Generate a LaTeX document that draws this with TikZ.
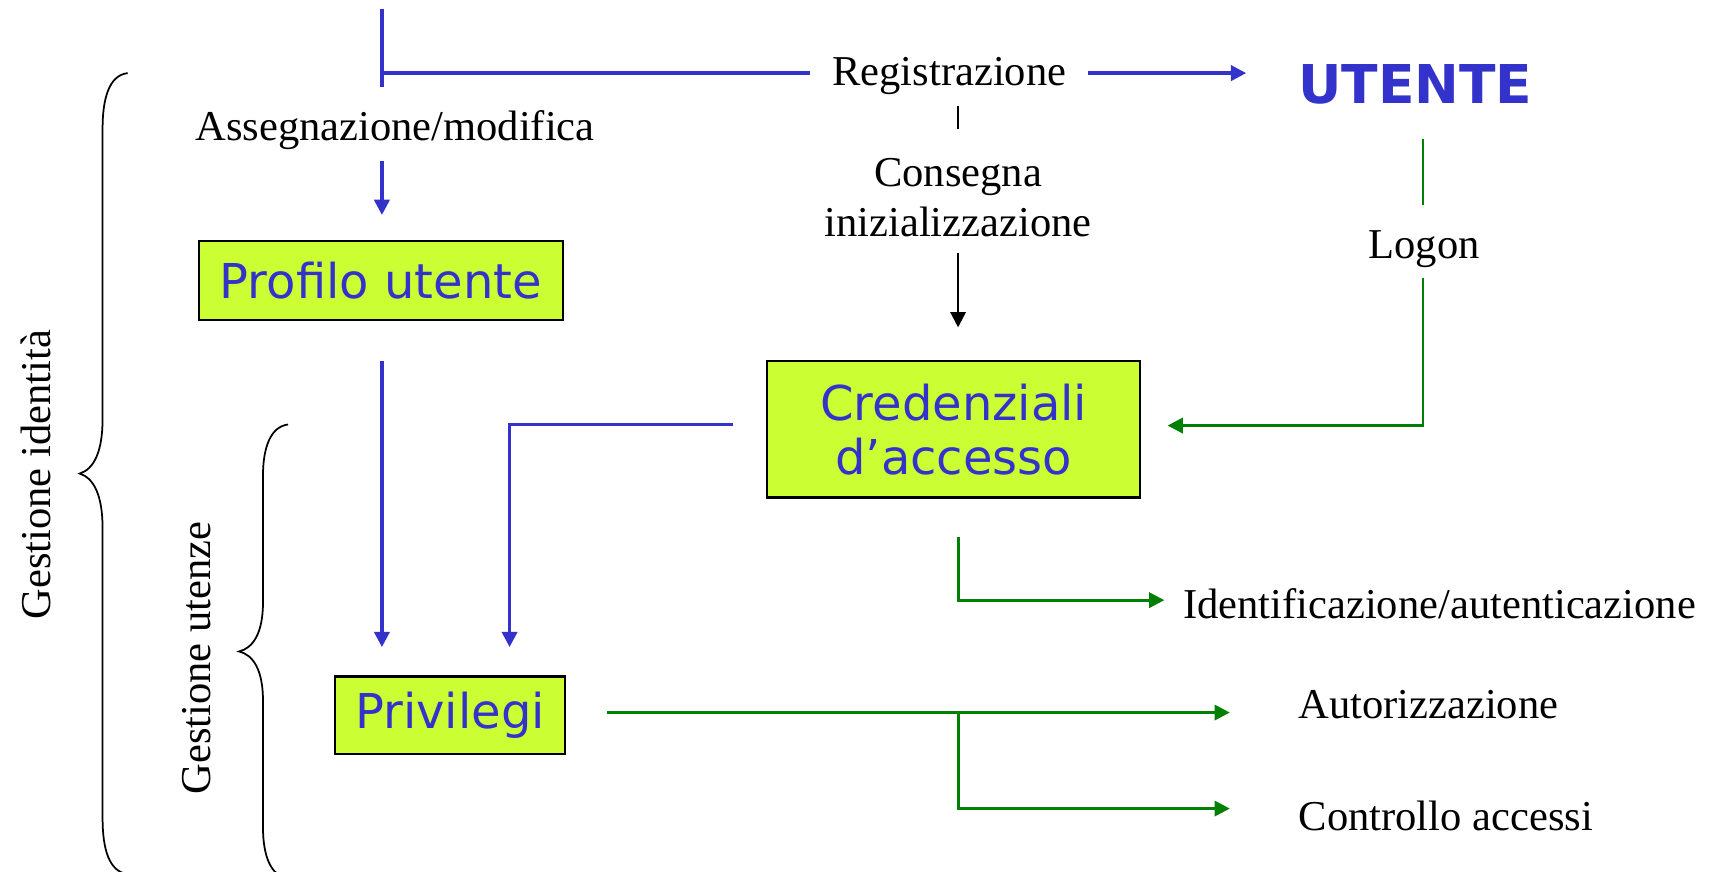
\documentclass[tikz,border=0pt]{standalone}
\usepackage{fontspec}
\setmainfont{Liberation Serif}
\newfontfamily\boxfont{DejaVu Sans}
\usetikzlibrary{arrows.meta}
\definecolor{lineblue}{RGB}{51,51,204}
\definecolor{linegreen}{RGB}{0,128,0}
\definecolor{boxfill}{RGB}{204,255,51}
\tikzset{
  lbl/.style={inner sep=0pt, align=center, font=\fontsize{39}{46}\selectfont},
  keybox/.style={draw=black, line width=2pt, fill=boxfill, inner sep=0pt,
    align=center, text=lineblue, font=\boxfont\fontsize{44}{50}\selectfont},
  blueline/.style={draw=lineblue, line width=3pt},
  greenline/.style={draw=linegreen, line width=2.6pt},
  blackline/.style={draw=black, line width=2.2pt},
  tip/.style={-{Triangle[length=14pt,width=14pt]}},
  bracket/.style={draw=black, line width=1.6pt}
}
\begin{document}
\begin{tikzpicture}[x=1pt,y=-1pt]
\useasboundingbox (0,0) rectangle (1568,799);
\fill[white] (0,0) rectangle (1568,799);
\clip (0,0) rectangle (1568,799);

% labels
\node[lbl] (reg) at (870,70) {Registrazione};
\node[inner sep=0pt, text=lineblue, font=\boxfont\bfseries\fontsize{49}{54}\selectfont] (ut) at (1297,77) {UTENTE};
\node[lbl] (cons) at (878,181) {Consegna\\inizializzazione};
\node[lbl] (logon) at (1305,228) {Logon};
\node[lbl] (assegn) at (362,119) {Assegnazione/modifica};
\node[lbl, anchor=west] (ident) at (1084,553) {Identificazione/autenticazione};
\node[lbl] (autor) at (1309,646) {Autorizzazione};
\node[lbl] (contr) at (1325,748) {Controllo accessi};
\node[lbl, rotate=90] (gid) at (33,435) {Gestione identità};
\node[lbl, rotate=90] (gut) at (180,603) {Gestione utenze};

% boxes
\node[keybox, minimum width=334pt, minimum height=72pt] (prof) at (349,257) {Profilo utente};
\node[keybox, minimum width=342pt, minimum height=125pt] (cred) at (874,393.5) {Credenziali\\d’accesso};
\node[keybox, minimum width=211pt, minimum height=71pt] (priv) at (412.5,655.5) {Privilegi};

% connector end points
\coordinate (topA) at (350,8);
\coordinate (topB) at (350,80);
\coordinate (topC) at (350,67);
\coordinate (regL) at (742,67);
\coordinate (regR) at (997,67);
\coordinate (utL) at (1142,67);
\coordinate (consA) at (878,97);
\coordinate (consB) at (878,118);
\coordinate (consC) at (878,232);
\coordinate (consD) at (878,300);
\coordinate (asA) at (350,148);
\coordinate (asB) at (350,197);
\coordinate (profB) at (350,331);
\coordinate (privA) at (350,593);
\coordinate (credL) at (672,389);
\coordinate (credK) at (467,389);
\coordinate (privB) at (467,593);
\coordinate (logA) at (1304,127);
\coordinate (logB) at (1304,188);
\coordinate (logC) at (1304,255);
\coordinate (logK) at (1304,390);
\coordinate (credR) at (1070,390);
\coordinate (credB) at (878,492);
\coordinate (credK2) at (878,550);
\coordinate (identL) at (1067,550);
\coordinate (privR) at (556,653);
\coordinate (split) at (878,653);
\coordinate (autL) at (1127,653);
\coordinate (splitK) at (878,741);
\coordinate (conL) at (1127,741);

% blue connectors
\draw[blueline] (topA) -- (topB);
\draw[blueline] (topC) -- (regL);
\draw[blueline, tip] (regR) -- (utL);
\draw[blueline, tip] (asA) -- (asB);
\draw[blueline, tip] (profB) -- (privA);
\draw[blueline, tip] (credL) -- (credK) -- (privB);

% black connectors
\draw[blackline] (consA) -- (consB);
\draw[blackline, tip] (consC) -- (consD);

% green connectors
\draw[greenline] (logA) -- (logB);
\draw[greenline, tip] (logC) -- (logK) -- (credR);
\draw[greenline, tip] (credB) -- (credK2) -- (identL);
\draw[greenline, tip] (privR) -- (autL);
\draw[greenline, tip] (split) -- (splitK) -- (conL);

% braces
\draw[bracket] (117,67) .. controls (100,69) and (94,90) .. (94,118)
  -- (94,384) .. controls (94,414) and (86,430) .. (73,434)
  .. controls (86,438) and (94,454) .. (94,484)
  -- (94,750) .. controls (94,778) and (100,799) .. (117,801);
\draw[bracket] (264,389) .. controls (248,391) and (241,410) .. (241,436)
  -- (241,552) .. controls (241,580) and (232,594) .. (219,597)
  .. controls (232,600) and (241,614) .. (241,642)
  -- (241,758) .. controls (241,784) and (248,803) .. (264,805);
\end{tikzpicture}
\end{document}
